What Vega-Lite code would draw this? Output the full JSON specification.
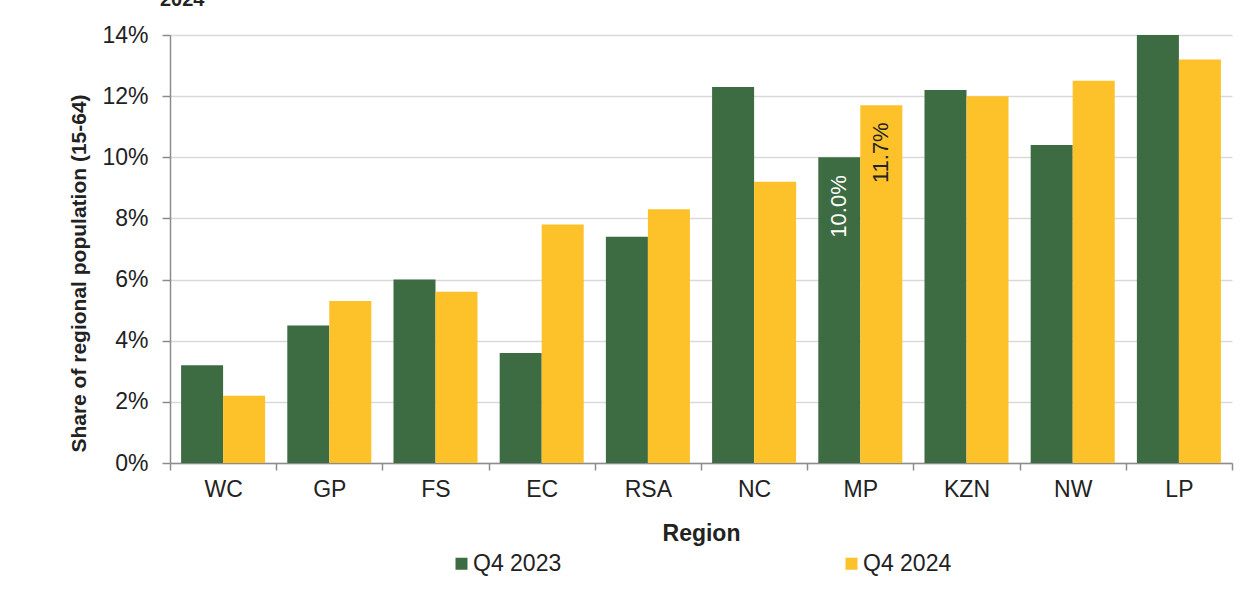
{
  "$schema": "https://vega.github.io/schema/vega-lite/v6.json",
  "autosize": "none",
  "width": 1062,
  "height": 428,
  "padding": {"left": 170, "top": 35, "right": 28, "bottom": 131},
  "background": "white",
  "config": {
    "font": "Liberation Sans",
    "view": {"stroke": null},
    "axis": {"labelFont": "Liberation Sans", "titleFont": "Liberation Sans", "labelColor": "#222", "titleColor": "#222"}
  },
  "title": {"text": "2024", "anchor": "start", "frame": "group", "offset": 14, "dx": -10, "fontSize": 20, "font": "Liberation Sans", "fontWeight": "bold", "color": "#222"},
  "data": {
    "values": [
      {"region": "WC", "series": "Q4 2023", "value": 3.2},
      {"region": "WC", "series": "Q4 2024", "value": 2.2},
      {"region": "GP", "series": "Q4 2023", "value": 4.5},
      {"region": "GP", "series": "Q4 2024", "value": 5.3},
      {"region": "FS", "series": "Q4 2023", "value": 6.0},
      {"region": "FS", "series": "Q4 2024", "value": 5.6},
      {"region": "EC", "series": "Q4 2023", "value": 3.6},
      {"region": "EC", "series": "Q4 2024", "value": 7.8},
      {"region": "RSA", "series": "Q4 2023", "value": 7.4},
      {"region": "RSA", "series": "Q4 2024", "value": 8.3},
      {"region": "NC", "series": "Q4 2023", "value": 12.3},
      {"region": "NC", "series": "Q4 2024", "value": 9.2},
      {"region": "MP", "series": "Q4 2023", "value": 10.0, "label": "10.0%"},
      {"region": "MP", "series": "Q4 2024", "value": 11.7, "label": "11.7%"},
      {"region": "KZN", "series": "Q4 2023", "value": 12.2},
      {"region": "KZN", "series": "Q4 2024", "value": 12.0},
      {"region": "NW", "series": "Q4 2023", "value": 10.4},
      {"region": "NW", "series": "Q4 2024", "value": 12.5},
      {"region": "LP", "series": "Q4 2023", "value": 14.0},
      {"region": "LP", "series": "Q4 2024", "value": 13.2}
    ]
  },
  "encoding": {
    "x": {
      "field": "region", "type": "nominal", "sort": null,
      "scale": {"paddingInner": 0, "paddingOuter": 0},
      "axis": {
        "title": "Region", "titleFontSize": 23, "titleFontWeight": "bold", "titlePadding": 21,
        "labelAngle": 0, "labelFontSize": 23, "labelPadding": 8,
        "tickBand": "extent", "tickSize": 7, "tickColor": "#8c8c8c", "tickWidth": 1.5,
        "domainColor": "#8c8c8c", "domainWidth": 1.5, "grid": false
      }
    },
    "xOffset": {"field": "series", "type": "nominal", "scale": {"paddingInner": 0, "paddingOuter": 0.264}},
    "y": {
      "field": "value", "type": "quantitative",
      "scale": {"domain": [0, 14], "nice": false},
      "axis": {
        "title": "Share of regional population (15-64)", "titleFontSize": 21, "titleFontWeight": "bold", "titlePadding": 12, "titleY": 238,
        "values": [0, 2, 4, 6, 8, 10, 12, 14], "labelExpr": "datum.value + '%'",
        "labelFontSize": 23, "labelPadding": 14,
        "tickSize": 8, "tickColor": "#8c8c8c", "tickWidth": 1.5,
        "domainColor": "#8c8c8c", "domainWidth": 1.5,
        "gridColor": "#d9d9d9", "gridWidth": 1.5
      }
    }
  },
  "layer": [
    {
      "mark": {"type": "bar"},
      "encoding": {
        "color": {
          "field": "series", "type": "nominal",
          "scale": {"domain": ["Q4 2023", "Q4 2024"], "range": ["#3D6B42", "#FDC12A"]},
          "legend": {
            "title": null, "orient": "none", "legendX": 280, "legendY": 517,
            "direction": "horizontal", "columnPadding": 278,
            "symbolType": "square", "symbolSize": 144, "symbolStrokeWidth": 0,
            "labelFontSize": 23, "labelOffset": 0, "labelFont": "Liberation Sans", "labelColor": "#222"
          }
        }
      }
    },
    {
      "transform": [{"filter": "datum.label != null && datum.series == 'Q4 2023'"}],
      "mark": {"type": "text", "angle": 270, "align": "right", "baseline": "middle", "dx": -18, "fontSize": 22, "color": "white"},
      "encoding": {"text": {"field": "label"}}
    },
    {
      "transform": [{"filter": "datum.label != null && datum.series == 'Q4 2024'"}],
      "mark": {"type": "text", "angle": 270, "align": "right", "baseline": "middle", "dx": -17, "fontSize": 22, "color": "#222"},
      "encoding": {"text": {"field": "label"}}
    }
  ]
}
